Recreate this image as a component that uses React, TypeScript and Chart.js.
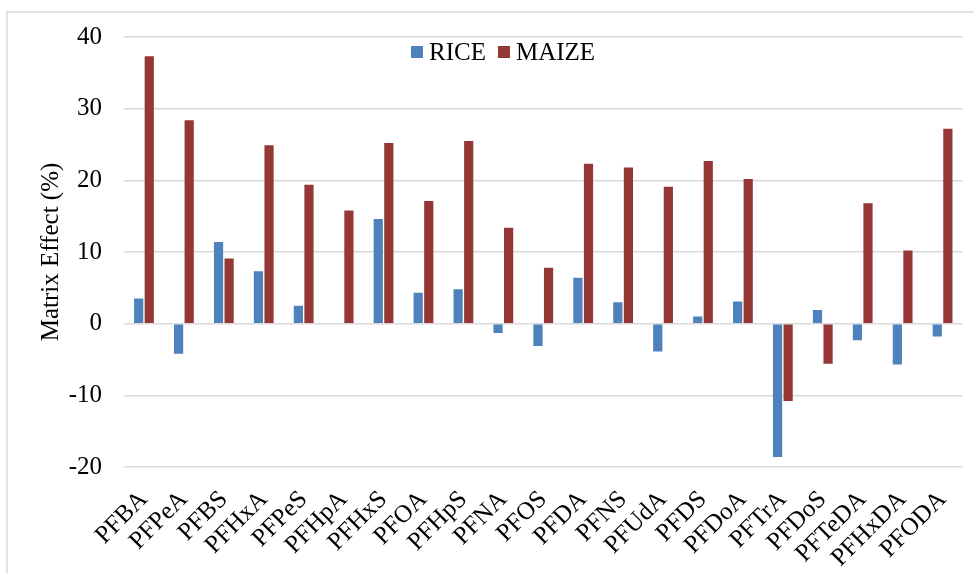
import React, { useEffect, useRef } from "react";
import { Chart, registerables } from "chart.js";

Chart.register(...registerables);

const categories = [
  "PFBA", "PFPeA", "PFBS", "PFHxA", "PFPeS", "PFHpA", "PFHxS", "PFOA", "PFHpS", "PFNA", "PFOS",
  "PFDA", "PFNS", "PFUdA", "PFDS", "PFDoA", "PFTrA", "PFDoS", "PFTeDA", "PFHxDA", "PFODA",
];
const riceValues = [
  3.5, -4.2, 11.4, 7.3, 2.5, 0, 14.6, 4.3, 4.8, -1.3, -3.1,
  6.4, 3.0, -3.9, 1.0, 3.1, -18.6, 1.9, -2.3, -5.7, -1.8,
];
const maizeValues = [
  37.3, 28.4, 9.1, 24.9, 19.4, 15.8, 25.2, 17.1, 25.5, 13.4, 7.8,
  22.3, 21.8, 19.1, 22.7, 20.2, -10.8, -5.6, 16.8, 10.2, 27.2,
];
const yTicks = [-20, -10, 0, 10, 20, 30, 40];
const seriesNames = ["RICE", "MAIZE"];
const seriesColors = ["#4F81BD", "#953735"];

const FONT = "'Liberation Serif', 'Times New Roman', serif";

const frame = {
  id: "frame",
  beforeDraw(chart: any) {
    const ctx = chart.ctx;
    ctx.save();
    ctx.strokeStyle = "#d9d9d9";
    ctx.lineWidth = 1.5;
    ctx.beginPath();
    ctx.moveTo(7, chart.height);
    ctx.lineTo(7, 12);
    ctx.lineTo(chart.width, 12);
    ctx.stroke();
    ctx.restore();
  },
};

const overlayLegend = {
  id: "overlayLegend",
  afterDraw(chart: any) {
    const ctx = chart.ctx;
    ctx.save();
    ctx.font = `25px ${FONT}`;
    ctx.textBaseline = "middle";
    ctx.textAlign = "left";
    let x = 411;
    const y = 52;
    chart.data.datasets.forEach((ds: any) => {
      ctx.fillStyle = ds.backgroundColor;
      ctx.fillRect(x, y - 6, 12, 12);
      x += 18;
      ctx.fillStyle = "#000";
      ctx.fillText(ds.label, x, y + 1);
      x += ctx.measureText(ds.label).width + 12;
    });
    ctx.restore();
  },
};

export default function App() {
  const ref = useRef<HTMLCanvasElement | null>(null);
  useEffect(() => {
    document.body.style.margin = "0";
    const canvas = ref.current;
    if (!canvas) return;
    const chart = new Chart(canvas, {
      type: "bar",
      data: {
        labels: categories,
        datasets: [
          { label: seriesNames[0], data: riceValues, backgroundColor: seriesColors[0] },
          { label: seriesNames[1], data: maizeValues, backgroundColor: seriesColors[1] },
        ],
      },
      options: {
        responsive: false,
        animation: false,
        layout: { padding: { left: 0, top: 35, right: 9, bottom: 0 } },
        datasets: { bar: { categoryPercentage: 0.53, barPercentage: 0.87 } },
        plugins: {
          legend: { display: false },
          tooltip: { enabled: false },
        },
        scales: {
          x: {
            grid: { display: false },
            border: { display: false },
            ticks: {
              color: "#000",
              font: { family: FONT, size: 25 },
              maxRotation: 45,
              minRotation: 45,
              padding: 10,
              autoSkip: false,
            },
            afterFit(scale: any) {
              scale.height = 106;
            },
          },
          y: {
            min: -20,
            max: 40,
            afterBuildTicks(scale: any) {
              scale.ticks = yTicks.map((v) => ({ value: v }));
            },
            grid: { color: "#d9d9d9", lineWidth: 1.5, drawTicks: false },
            border: { display: false },
            ticks: {
              color: "#000",
              font: { family: FONT, size: 25 },
              padding: 22,
            },
            title: {
              display: true,
              text: "Matrix Effect (%)",
              color: "#000",
              font: { family: FONT, size: 25 },
              padding: { top: 36, bottom: 0 },
            },
            afterFit(scale: any) {
              scale.width = 124;
            },
          },
        },
      },
      plugins: [frame, overlayLegend],
    });
    return () => chart.destroy();
  }, []);
  return <canvas ref={ref} width={974} height={573} />;
}
